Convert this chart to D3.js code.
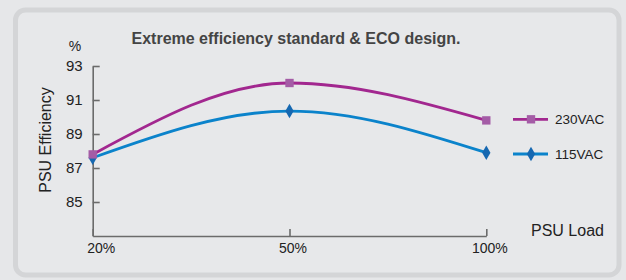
<!DOCTYPE html>
<html>
<head>
    <script src="https://cdnjs.cloudflare.com/ajax/libs/d3/7.8.5/d3.min.js"></script>
    <style>
      body { margin: 0; background: #e6e7e9; }
      svg { display: block; font-family: "Liberation Sans", Arial, sans-serif; }
    </style>
</head>
<body>
    <svg width="626" height="280"></svg>
    <script>
      const loads = ["20%", "50%", "100%"]
      const eff230 = [87.8, 92.0, 89.8]
      const eff115 = [87.6, 90.35, 87.9]
      const yTicks = [85, 87, 89, 91, 93]
      const seriesNames = ["230VAC", "115VAC"]

      const svg = d3.select('svg')

      // panel frame
      svg.append('rect')
        .attr('x', 15.5).attr('y', 10)
        .attr('width', 603.5).attr('height', 265)
        .attr('rx', 10)
        .style('fill', '#e7e8ea')
        .style('stroke', '#d4d5d7')
        .style('stroke-width', 5)

      let x = d3.scalePoint().domain(loads).range([92.7, 486.3])
      let y = d3.scaleLinear().domain([83, 93]).range([236, 66])

      let yAxis = svg.append('g')
        .attr('transform', 'translate(92.7,0)')
        .call(d3.axisLeft(y).tickValues(yTicks).tickSizeInner(-7).tickSizeOuter(0).tickPadding(10))
      yAxis.selectAll('text').style('font-size', '15px').style('fill', '#222').style('font-family', 'Liberation Sans, Arial')

      let xAxis = svg.append('g')
        .attr('transform', 'translate(0,236)')
        .call(d3.axisBottom(x).tickSizeInner(-7).tickSizeOuter(0).tickPadding(7))
      xAxis.selectAll('text')
        .style('font-size', '14px').style('fill', '#222').style('font-family', 'Liberation Sans, Arial')
        .attr('dx', function(d, i) { return i == 0 ? 8 : 3 })

      svg.selectAll('.domain, .tick line').style('stroke', '#6b6b6b').style('stroke-width', 1.6)

      // titles
      svg.append('text')
        .attr('x', 296).attr('y', 44)
        .attr('text-anchor', 'middle')
        .style('font-size', '16px').style('font-weight', 'bold').style('fill', '#444')
        .text('Extreme efficiency standard & ECO design.')

      svg.append('text')
        .attr('x', 75).attr('y', 51)
        .attr('text-anchor', 'middle')
        .style('font-size', '14px').style('fill', '#222')
        .text('%')

      svg.append('text')
        .attr('transform', 'translate(51,140) rotate(-90)')
        .attr('text-anchor', 'middle')
        .style('font-size', '16px').style('fill', '#222')
        .text('PSU Efficiency')

      svg.append('text')
        .attr('x', 531).attr('y', 236)
        .style('font-size', '16px').style('fill', '#222')
        .text('PSU Load')

      let line = d3.line()
        .x(function(d, i) { return x(loads[i]) })
        .y(function(d) { return y(d) })
        .curve(d3.curveMonotoneX)

      let series = [
        { name: seriesNames[0], values: eff230, line: '#a2278f', marker: '#a45ca6', shape: d3.symbolSquare, size: 70 },
        { name: seriesNames[1], values: eff115, line: '#0b83cb', marker: '#1668b1', shape: d3.symbolDiamond, size: 60 }
      ]
      let legendY = [119.3, 154]

      series.slice().reverse().forEach(s => {
        svg.append('path')
          .attr('d', line(s.values))
          .style('fill', 'none')
          .style('stroke', s.line)
          .style('stroke-width', 2.8)
      })

      series.slice().reverse().forEach(s => {
        svg.selectAll(null)
          .data(s.values)
          .enter()
          .append('path')
          .attr('transform', function(d, i) { return 'translate(' + x(loads[i]) + ',' + y(d) + ')' })
          .attr('d', d3.symbol().type(s.shape).size(s.size))
          .style('fill', s.marker)
      })

      series.forEach((s, i) => {
        let g = svg.append('g').attr('transform', 'translate(0,' + legendY[i] + ')')
        g.append('line')
          .attr('x1', 513).attr('x2', 548)
          .style('stroke', s.line).style('stroke-width', 2.8)
        g.append('path')
          .attr('transform', 'translate(531,0)')
          .attr('d', d3.symbol().type(s.shape).size(s.size))
          .style('fill', s.marker)
        g.append('text')
          .attr('x', 555).attr('y', 5)
          .style('font-size', '13.5px').style('fill', '#222')
          .text(s.name)
      })
    </script>
</body>
</html>
